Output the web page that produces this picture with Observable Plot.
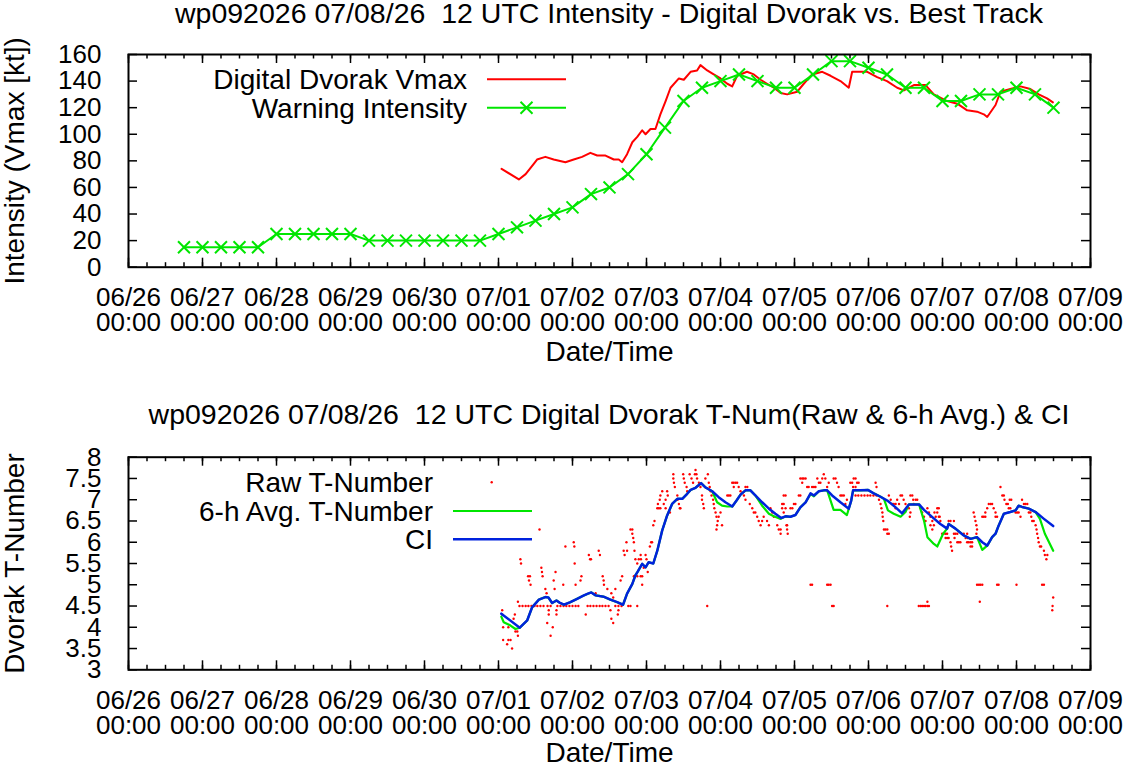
<!DOCTYPE html>
<html><head><meta charset="utf-8">
<script src="https://cdn.jsdelivr.net/npm/d3@7"></script>
<script src="https://cdn.jsdelivr.net/npm/@observablehq/plot@0.6"></script>
<style>
body{margin:0;background:#fff;}
#wrap{position:relative;width:1124px;height:766px;overflow:hidden;background:#fff;font-family:"Liberation Sans",Arial,Helvetica,sans-serif;}
.title{position:absolute;left:128px;width:962px;text-align:center;font-size:28.5px;line-height:26px;white-space:pre;z-index:3;color:#000}
#legend{position:absolute;left:0;top:0;z-index:4;pointer-events:none}
</style>
</head><body>
<div id="wrap">
  <div class="title" id="t1" style="top:0px"></div>
  <div class="title" id="t2" style="top:401px"></div>
</div>
<script>
// ---------------- data (time = hours after 2026-07-01 00 UTC) ----------------
const title1 = "wp092026 07/08/26  12 UTC Intensity - Digital Dvorak vs. Best Track";
const title2 = "wp092026 07/08/26  12 UTC Digital Dvorak T-Num(Raw & 6-h Avg.) & CI";

const dayTickHours = [-120,-96,-72,-48,-24,0,24,48,72,96,120,144,168,192];
const xTickLabels = ["06/26\n00:00","06/27\n00:00","06/28\n00:00","06/29\n00:00","06/30\n00:00","07/01\n00:00","07/02\n00:00","07/03\n00:00","07/04\n00:00","07/05\n00:00","07/06\n00:00","07/07\n00:00","07/08\n00:00","07/09\n00:00"];
const yTicksTop = [0,20,40,60,80,100,120,140,160];
const yTicksBottom = [3,3.5,4,4.5,5,5.5,6,6.5,7,7.5,8];

// Warning (best track) intensity, 6-hourly
const warnHours = [-102,-96,-90,-84,-78,-72,-66,-60,-54,-48,-42,-36,-30,-24,-18,-12,-6,0,6,12,18,24,30,36,42,48,54,60,66,72,78,84,90,96,102,108,114,120,126,132,138,144,150,156,162,168,174,180];
const warnKt    = [15,15,15,15,15,25,25,25,25,25,20,20,20,20,20,20,20,25,30,35,40,45,55,60,70,85,105,125,135,140,145,140,135,135,145,155,155,150,145,135,135,125,125,130,130,135,130,120];

// Digital Dvorak Vmax [hour, kt]
const ddVmax = [[1.0,74],[6.6,66],[8.8,70],[11.5,78],[12.5,81],[15.2,83],[17.9,81],[21.7,79],[24.4,81],[27.1,83],[29.8,86],[32.0,84],[34.7,84],[37.4,81],[39.0,81],[40.1,79],[41.7,85],[43.4,94],[45.0,98],[46.6,103],[47.7,100],[49.3,104],[50.9,104],[52.5,115],[54.2,125],[55.8,135],[58.5,142],[60.1,141],[62.3,147],[64.4,148],[65.5,152],[67.7,148],[69.8,145],[72.0,142],[74.2,138],[75.8,136],[77.4,144],[80.6,147],[82.8,145],[85.0,141],[87.1,138],[89.3,135],[91.5,131],[93.6,130],[96.9,132],[99.0,138],[101.7,145],[105.0,147],[107.7,144],[110.9,140],[113.6,135],[114.7,147],[119.6,147],[122.8,143],[126.0,140],[129.3,135],[131.5,133],[134.7,137],[138.5,137],[141.2,130],[145.5,125],[148.8,123],[152.0,118],[155.2,117],[157.4,115],[158.5,113],[161.2,122],[162.8,132],[166.0,134],[169.3,136],[172.5,134],[175.2,130],[177.9,127],[179.8,124]];

// Raw T-number observations [hour, T]
const rawTnum = [[1.2,4.4],[1.2,4.3],[1.5,4.0],[1.5,3.7],[2.8,3.6],[3.2,3.7],[3.2,4.0],[3.9,3.7],[4.4,3.5],[4.9,4.2],[5.3,4.3],[5.5,3.9],[6.1,3.9],[6.3,3.8],[6.3,4.6],[6.9,4.0],
[6.8,4.5],[7.8,4.5],[8.8,4.5],[9.7,4.5],[10.7,4.5],[11.7,4.5],[12.6,4.5],[13.6,4.5],[14.6,4.5],
[7.1,5.6],[7.3,5.5],[9.6,5.2],[9.9,5.1],[10.2,5.2],[10.4,5.0],[13.3,6.3],[13.9,5.4],[14.1,5.3],[14.3,5.2],
[15.2,4.9],[15.6,4.8],[15.8,4.1],[16.3,4.4],[16.3,4.3],[16.9,3.8],[17.6,4.0],[17.9,5.1],[18.2,4.9],[18.5,5.3],[18.8,4.4],[18.8,4.3],
[15.9,4.5],[16.9,4.5],[19.1,4.5],[20.1,4.5],[21.1,4.5],[22.0,4.5],[23.0,4.5],[24.0,4.5],[25.0,4.5],[25.9,4.5],
[21.0,5.0],[21.7,5.9],[24.4,6.0],[24.6,5.9],[24.7,5.5],[25.0,5.0],[26.6,5.1],[26.9,5.2],[28.3,4.3],
[28.9,4.5],[29.8,4.5],[30.8,4.5],[31.8,4.5],[32.8,4.5],[33.7,4.5],[34.7,4.5],[35.7,4.5],
[29.3,5.7],[29.7,5.6],[30.0,5.6],[31.5,4.8],[32.5,5.8],[32.9,5.7],[33.8,5.2],[34.1,5.1],[34.2,5.0],[35.3,4.9],[36.3,4.4],[36.6,4.8],[36.6,4.2],[37.2,4.7],[37.2,4.1],[37.9,4.9],[38.7,4.3],[38.9,4.4],[39.6,5.1],[40.1,5.2],[40.6,5.8],[40.9,5.7],[41.5,6.0],[41.7,5.8],
[37.9,4.5],[38.9,4.5],[39.9,4.5],[42.1,4.5],[42.8,4.5],[45.0,4.5],
[42.8,6.3],[43.4,6.3],[43.4,6.2],[43.7,6.1],[43.9,6.0],[44.1,5.8],[44.4,5.6],[45.0,5.5],[45.5,5.6],[46.1,5.7],[46.2,5.6],[47.7,5.7],[48.0,5.6],[43.9,5.2],[45.0,5.2],[46.1,5.2],[46.6,5.2],[46.6,5.0],[47.1,5.4],[48.4,5.3],
[49.1,5.9],[49.5,6.0],[49.8,6.0],[50.2,6.4],[50.6,6.5],
[51.5,6.8],[52.0,6.8],[52.5,6.8],[51.7,6.9],[52.3,7.0],[52.5,7.1],[53.1,7.2],[53.6,6.9],[54.2,7.0],[54.2,6.8],[54.7,7.2],[54.9,7.1],[55.6,6.7],
[56.7,7.6],[56.7,7.5],[56.9,7.4],[57.2,7.3],[58.0,7.1],[58.1,7.0],[58.5,6.9],[58.8,6.8],[59.0,6.8],
[59.9,7.6],[60.1,7.5],[60.4,7.4],[61.0,7.3],[61.2,7.2],
[62.0,7.6],[62.6,7.5],[63.1,7.4],[63.7,7.6],[63.9,7.7],[64.2,7.6],[64.4,7.5],[65.0,7.4],[65.5,7.3],
[66.0,7.1],[66.0,7.0],[66.4,6.9],[66.6,6.8],
[67.1,7.5],[67.9,7.6],[68.2,7.4],[68.5,7.3],[68.8,7.2],[69.1,7.1],[69.6,7.0],
[69.8,6.9],[70.0,6.8],[70.4,6.7],[70.7,6.6],[71.1,6.5],[70.9,6.4],[70.7,6.3],
[71.4,6.6],[72.0,6.7],[72.5,6.4],[67.7,4.5],
[74.2,7.1],[74.7,7.1],[75.2,7.1],
[75.8,7.4],[76.3,7.4],[76.9,7.4],[77.4,7.4],[76.3,7.3],[77.9,7.3],
[78.5,7.2],[79.6,7.1],[80.1,7.0],[80.1,7.3],[80.7,7.3],
[81.5,6.9],[82.3,6.8],[82.8,6.7],
[83.3,6.7],[83.9,6.6],[84.4,6.5],[85.0,6.4],
[85.5,6.5],[86.0,6.6],[87.1,6.5],[87.7,6.4],
[88.2,6.8],[88.8,6.7],[89.3,6.6],
[90.4,6.4],[90.9,6.3],[91.5,6.2],[92.0,6.8],[92.5,6.9],[93.1,7.1],[93.6,6.4],[93.8,6.2],
[92.5,7.1],[92.0,6.9],[92.5,6.7],[93.1,6.8],
[91.5,6.3],[93.4,6.4],[93.6,6.3],
[94.7,6.8],[95.3,6.8],[95.8,6.9],[96.3,6.9],
[97.4,7.1],[97.9,7.1],
[97.9,7.5],[98.5,7.5],[99.0,7.5],[99.6,7.5],[98.5,7.4],
[100.1,7.3],[100.6,7.3],[101.7,7.3],[102.3,7.3],[102.8,7.3],[102.3,7.1],
[103.4,7.5],[103.9,7.4],[104.4,7.4],[105.0,7.5],[105.5,7.6],[106.0,7.5],
[106.6,7.3],[107.1,7.4],
[108.7,7.5],[109.3,7.5],[109.8,7.4],[110.3,7.3],[110.9,7.1],[111.4,7.1],[112.0,7.1],[112.5,6.9],[113.0,7.0],
[114.1,7.4],[114.7,7.4],[115.2,7.5],[115.8,7.5],[116.3,7.4],[116.8,7.4],[115.0,7.3],[115.8,7.3],
[115.8,7.1],[116.7,7.1],[117.7,7.1],[118.7,7.1],[119.7,7.1],[120.6,7.1],[121.6,7.1],[122.6,7.1],
[122.3,7.4],[122.6,7.3],[123.4,7.0],
[123.9,6.9],[124.2,6.8],[124.5,6.7],[124.6,6.6],[124.8,6.5],
[125.0,6.3],[125.5,6.3],[126.1,6.3],[126.1,6.2],[126.6,6.2],
[126.6,7.1],[127.2,7.0],[127.7,6.9],[128.2,6.9],[128.8,6.9],[129.3,7.0],[129.9,6.9],[128.8,6.8],
[130.4,7.1],[130.9,7.1],[131.4,7.0],[132.0,6.9],
[133.1,6.8],[133.6,6.7],[133.4,6.6],
[133.6,7.1],[134.2,7.1],[134.5,7.0],[134.7,6.9],[135.3,7.0],[135.8,7.0],
[136.9,6.8],[137.4,6.7],[138.0,6.6],[138.5,6.5],
[139.1,6.8],[139.6,6.7],[140.1,6.6],[140.7,6.5],
[140.1,6.4],[140.7,6.3],[141.2,6.4],[141.8,6.6],[142.3,6.7],[142.8,6.6],
[101.2,5.0],[101.7,5.0],[106.6,5.0],[107.1,5.0],[107.7,5.0],[108.2,4.5],[108.7,4.5],[126.1,4.5],[136.3,4.5],[136.9,4.5],[137.4,4.5],[138.0,4.5],[138.5,4.5],[139.1,4.5],[139.6,4.5],[139.1,4.6],
[141.4,6.7],[142.3,6.8],[142.8,6.8],[143.1,6.6],[143.3,6.5],
[143.9,6.2],[144.4,6.2],[145.0,6.2],[145.5,6.2],[145.0,6.1],[145.5,6.1],
[146.0,6.1],[146.6,6.0],[146.8,5.9],[147.1,5.8],
[146.0,6.5],[146.6,6.5],[147.7,6.5],
[147.7,6.2],[148.2,6.2],[148.8,6.2],[147.9,6.1],[148.8,6.0],[149.3,6.0],[149.8,6.0],
[150.9,6.2],[152.0,6.2],[151.5,6.1],[152.2,6.1],
[152.0,6.0],[152.5,6.0],[153.1,6.0],[153.6,6.0],[153.1,5.9],[153.6,5.9],
[154.1,6.7],[154.4,6.6],[154.7,6.5],[155.0,6.4],[155.2,6.3],[155.0,6.2],[155.2,6.1],
[156.9,6.6],[157.4,6.6],[157.9,6.6],
[157.9,6.7],[158.5,6.8],[159.0,6.9],[159.6,6.9],[160.1,6.9],[160.6,6.8],[161.2,6.7],[161.2,6.6],[161.7,6.6],
[162.8,7.3],[163.4,7.1],[163.9,7.1],[164.1,7.0],
[164.7,6.9],[165.2,6.9],[165.8,7.0],[166.3,7.0],[165.5,6.8],[166.0,6.8],
[167.7,6.7],[168.2,6.7],[168.7,6.7],[169.3,6.6],
[169.8,7.0],[170.4,6.9],[170.9,6.9],[171.5,6.9],
[172.0,6.7],[172.5,6.7],[172.8,6.6],
[173.1,6.5],[173.6,6.5],[174.2,6.4],[174.5,6.3],[174.7,6.2],[175.0,6.1],[175.2,6.0],
[175.6,5.9],[176.0,5.9],[176.9,5.8],[177.2,5.7],[177.7,5.6],[178.0,5.7],
[155.2,5.0],[155.8,5.0],[156.3,5.0],[156.9,5.0],[156.1,4.6],[161.7,5.0],[162.2,5.0],[168.0,5.0],[176.3,5.0],[176.9,5.0],[179.9,4.7],[179.7,4.5],[179.6,4.4]];

// 6-h average T-number [hour, T]
const avgTnum = [[0.9,4.25],[1.7,4.12],[3.9,4.04],[5.5,3.96],[6.9,3.99],[9.3,4.16],[10.9,4.47],[13.1,4.65],[15.2,4.71],[16.2,4.70],[17.4,4.57],[18.8,4.63],[19.8,4.58],[21.2,4.53],[23.3,4.59],[25.5,4.67],[27.7,4.75],[29.0,4.79],[30.1,4.82],[31.5,4.75],[34.1,4.72],[36.3,4.65],[38.5,4.59],[40.4,4.53],[41.7,4.79],[43.4,5.02],[44.4,5.22],[45.0,5.29],[46.6,5.49],[47.7,5.41],[48.7,5.53],[50.2,5.50],[51.5,5.80],[53.1,6.28],[54.7,6.63],[56.3,6.90],[58.0,7.02],[59.6,7.02],[61.2,7.14],[62.3,7.23],[63.9,7.28],[65.7,7.39],[67.1,7.29],[69.3,7.20],[70.9,6.94],[72.5,6.86],[74.2,6.84],[75.8,6.84],[77.2,6.98],[78.5,7.12],[80.1,7.22],[81.7,7.22],[83.3,7.10],[85.5,6.86],[87.7,6.67],[89.3,6.61],[91.5,6.55],[93.1,6.61],[94.7,6.60],[96.3,6.64],[97.9,6.82],[99.6,6.94],[101.2,7.13],[102.3,7.08],[103.9,7.20],[105.5,7.22],[106.6,7.22],[107.7,6.98],[108.7,6.76],[110.9,6.76],[113.0,6.64],[114.4,6.98],[115.0,7.22],[117.4,7.22],[119.8,7.23],[121.7,7.15],[123.9,7.07],[125.0,7.02],[126.3,6.75],[128.2,6.67],[130.4,6.60],[132.0,6.71],[133.1,6.89],[135.3,6.89],[136.4,6.89],[138.0,6.51],[139.1,6.12],[141.2,5.96],[142.3,5.90],[144.2,6.20],[145.5,6.32],[146.0,6.43],[148.2,6.32],[150.9,6.16],[153.1,6.08],[155.2,6.12],[156.9,5.82],[158.5,5.92],[160.1,6.12],[161.2,6.20],[162.2,6.39],[163.9,6.67],[166.0,6.71],[167.7,6.75],[168.7,6.86],[169.8,6.83],[172.0,6.79],[174.2,6.71],[175.6,6.55],[177.2,6.20],[179.9,5.80]];

// CI number [hour, CI]
const ciNum = [[0.9,4.32],[6.9,3.99],[9.3,4.16],[10.9,4.47],[13.1,4.65],[15.2,4.71],[16.2,4.70],[17.4,4.57],[18.8,4.63],[19.8,4.58],[21.2,4.53],[23.3,4.59],[25.5,4.67],[27.7,4.75],[29.0,4.79],[30.1,4.82],[31.5,4.75],[34.1,4.72],[36.3,4.65],[38.5,4.59],[40.4,4.53],[41.7,4.79],[43.4,5.02],[44.4,5.22],[45.0,5.29],[46.6,5.49],[47.7,5.41],[48.7,5.53],[50.2,5.50],[51.5,5.80],[53.1,6.28],[54.7,6.63],[56.3,6.90],[58.0,7.02],[59.6,7.02],[61.2,7.14],[62.3,7.23],[63.9,7.28],[65.7,7.39],[67.1,7.29],[69.3,7.20],[71.4,7.06],[73.6,6.94],[75.8,6.84],[77.2,6.98],[78.5,7.12],[80.1,7.22],[81.7,7.22],[83.3,7.10],[85.5,6.94],[87.7,6.79],[89.8,6.67],[91.7,6.57],[93.1,6.61],[94.7,6.60],[96.3,6.64],[97.9,6.82],[99.6,6.94],[101.2,7.15],[102.3,7.10],[103.9,7.20],[105.5,7.22],[106.6,7.22],[108.2,7.10],[110.9,6.94],[113.6,6.79],[114.4,6.98],[115.0,7.22],[117.4,7.22],[119.8,7.23],[121.7,7.15],[123.9,7.07],[126.1,6.98],[128.8,6.82],[130.9,6.68],[133.1,6.89],[135.3,6.89],[136.4,6.89],[138.0,6.76],[140.7,6.59],[143.3,6.43],[145.5,6.32],[146.0,6.43],[148.2,6.32],[150.9,6.16],[153.1,6.08],[155.2,6.12],[156.9,6.00],[158.5,5.92],[160.1,6.12],[161.2,6.20],[162.2,6.39],[163.9,6.67],[166.0,6.71],[167.7,6.75],[168.7,6.86],[169.8,6.83],[172.0,6.79],[174.2,6.71],[176.9,6.55],[179.9,6.38]];

// ---------------- chart ----------------
const RED = "#ff0000", GREEN = "#00e600", BLUE = "#0022dd";
const FONT = "'Liberation Sans', Arial, Helvetica, sans-serif";
const baseUTC = Date.UTC(2026, 6, 1);
const hr = h => new Date(baseUTC + h * 3600e3);
const W = 1124, H = 383;
const xDomain = [hr(dayTickHours[0]), hr(dayTickHours[dayTickHours.length - 1])];
const dayDates = dayTickHours.map(hr);
const sixDates = d3.range(dayTickHours[0], dayTickHours[dayTickHours.length - 1] + 1, 6).map(hr);
const labelFor = d => xTickLabels[dayTickHours.indexOf(Math.round((+d - baseUTC) / 3600e3))];

function decor(m, yTicks, yLabel, xLabelDy) {
  const ph = H - m.top - m.bottom, pw = W - m.left - m.right;
  const tk = {stroke: "black", strokeWidth: 1.5};
  return [
    Plot.tickX(sixDates, {x: d => d, insetTop: ph - 4.5, ...tk}),
    Plot.tickX(sixDates, {x: d => d, insetBottom: ph - 4.5, ...tk}),
    Plot.tickX(dayDates, {x: d => d, insetTop: ph - 9, ...tk}),
    Plot.tickX(dayDates, {x: d => d, insetBottom: ph - 9, ...tk}),
    Plot.tickY(yTicks, {y: d => d, insetRight: pw - 9, ...tk}),
    Plot.tickY(yTicks, {y: d => d, insetLeft: pw - 9, ...tk}),
    Plot.axisX(dayDates, {tickSize: 0, tickPadding: 21, tickFormat: labelFor, lineHeight: 0.97, fontSize: 26, label: null}),
    Plot.axisY(yTicks, {tickSize: 0, tickPadding: 27, tickFormat: d => String(d), fontSize: 26, label: null}),
    Plot.text([yLabel], {frameAnchor: "left", dx: -113, rotate: -90, textAnchor: "middle", lineAnchor: "middle", text: d => d}),
    Plot.text(["Date/Time"], {frameAnchor: "bottom", dy: xLabelDy, textAnchor: "middle", lineAnchor: "middle", text: d => d})
  ];
}

const styleObj = {fontFamily: FONT, fontSize: "28px", background: "transparent", overflow: "visible", color: "black"};

const m1 = {top: 54, bottom: 116.3, left: 128, right: 34};
const warn = warnHours.map((h, i) => ({t: hr(h), v: warnKt[i]}));
const dd = ddVmax.map(([h, v]) => ({t: hr(h), v}));
const plotTop = Plot.plot({
  width: W, height: H,
  marginTop: m1.top, marginBottom: m1.bottom, marginLeft: m1.left, marginRight: m1.right,
  style: styleObj,
  x: {type: "utc", domain: xDomain},
  y: {domain: [0, 160]},
  marks: [
    Plot.line(dd, {x: "t", y: "v", stroke: RED, strokeWidth: 2}),
    Plot.line(warn, {x: "t", y: "v", stroke: GREEN, strokeWidth: 2}),
    Plot.dot(warn, {x: "t", y: "v", symbol: "times", r: 5.5, stroke: GREEN, strokeWidth: 2}),
    ...decor(m1, yTicksTop, "Intensity (Vmax [kt])", 85),
    Plot.frame({stroke: "black", strokeWidth: 2})
  ]
});

const m2 = {top: 73.7, bottom: 96.7, left: 128, right: 34};
const raw = rawTnum.map(([h, v]) => ({t: hr(h), v}));
const avg = avgTnum.map(([h, v]) => ({t: hr(h), v}));
const ci = ciNum.map(([h, v]) => ({t: hr(h), v}));
const plotBottom = Plot.plot({
  width: W, height: H,
  marginTop: m2.top, marginBottom: m2.bottom, marginLeft: m2.left, marginRight: m2.right,
  style: styleObj,
  x: {type: "utc", domain: xDomain},
  y: {domain: [3, 8]},
  marks: [
    Plot.dot(raw, {x: "t", y: "v", r: 1.2, fill: RED, stroke: null}),
    Plot.line(avg, {x: "t", y: "v", stroke: GREEN, strokeWidth: 2.2}),
    Plot.line(ci, {x: "t", y: "v", stroke: BLUE, strokeWidth: 2.5}),
    ...decor(m2, yTicksBottom, "Dvorak T-Number", 83),
    Plot.frame({stroke: "black", strokeWidth: 2})
  ]
});

const wrap = document.getElementById("wrap");
for (const [svg, t] of [[plotTop, 0], [plotBottom, 383]]) {
  svg.style.position = "absolute";
  svg.style.left = "0px";
  svg.style.top = t + "px";
  wrap.appendChild(svg);
}
document.getElementById("t1").textContent = title1;
document.getElementById("t2").textContent = title2;

// legends (key boxes inside the plots)
const legendItems = [
  {label: "Digital Dvorak Vmax", tx: 467, ty: 89.3, kind: "line", color: RED, x1: 487, x2: 566, y: 79.3, w: 2},
  {label: "Warning Intensity", tx: 467, ty: 117.7, kind: "linex", color: GREEN, x1: 487, x2: 566, y: 107.7, w: 2},
  {label: "Raw T-Number", tx: 433, ty: 492, kind: "dot", color: RED, x1: 491.7, x2: 491.7, y: 482.3, w: 0},
  {label: "6-h Avg. T-Number", tx: 433, ty: 521, kind: "line", color: GREEN, x1: 453, x2: 532, y: 511, w: 2.2},
  {label: "CI", tx: 433, ty: 549, kind: "line", color: BLUE, x1: 453, x2: 532, y: 539.3, w: 2.5}
];
const ns = "http://www.w3.org/2000/svg";
const leg = document.createElementNS(ns, "svg");
leg.setAttribute("id", "legend");
leg.setAttribute("width", W); leg.setAttribute("height", 766);
leg.setAttribute("font-family", FONT); leg.setAttribute("font-size", 28);
for (const it of legendItems) {
  const tx = document.createElementNS(ns, "text");
  tx.setAttribute("x", it.tx); tx.setAttribute("y", it.ty);
  tx.setAttribute("text-anchor", "end"); tx.setAttribute("fill", "black");
  tx.textContent = it.label; leg.appendChild(tx);
  if (it.kind === "dot") {
    const c = document.createElementNS(ns, "circle");
    c.setAttribute("cx", it.x1); c.setAttribute("cy", it.y); c.setAttribute("r", 1.2); c.setAttribute("fill", it.color);
    leg.appendChild(c);
  } else {
    const l = document.createElementNS(ns, "line");
    l.setAttribute("x1", it.x1); l.setAttribute("x2", it.x2); l.setAttribute("y1", it.y); l.setAttribute("y2", it.y);
    l.setAttribute("stroke", it.color); l.setAttribute("stroke-width", it.w);
    leg.appendChild(l);
    if (it.kind === "linex") {
      const cx = (it.x1 + it.x2) / 2;
      const p = document.createElementNS(ns, "path");
      p.setAttribute("d", `M${cx-6},${it.y-6}L${cx+6},${it.y+6}M${cx-6},${it.y+6}L${cx+6},${it.y-6}`);
      p.setAttribute("stroke", it.color); p.setAttribute("stroke-width", 2); p.setAttribute("fill", "none");
      leg.appendChild(p);
    }
  }
}
wrap.appendChild(leg);
</script>
</body></html>
